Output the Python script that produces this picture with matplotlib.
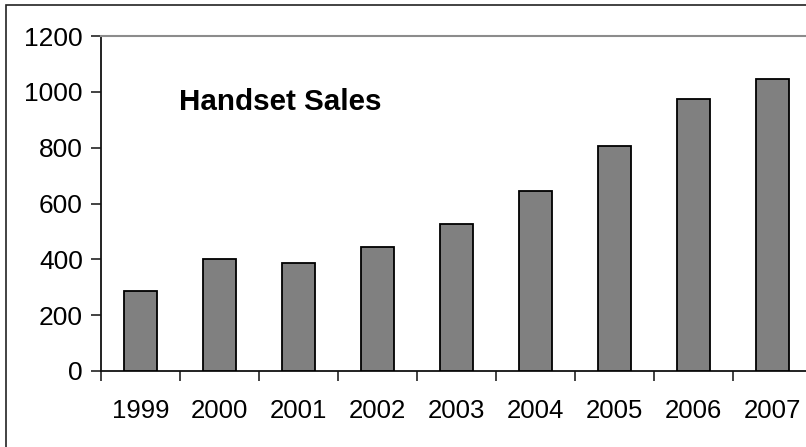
import matplotlib
matplotlib.use("Agg")
import matplotlib.pyplot as plt
from matplotlib.patches import Rectangle
import numpy as np

years = ["1999", "2000", "2001", "2002", "2003", "2004", "2005", "2006", "2007"]
sales = [288, 401, 387, 445, 527, 646, 807, 974, 1047]
yticks = [0, 200, 400, 600, 800, 1000, 1200]
title = "Handset Sales"

plt.rcParams['font.family'] = ['Liberation Sans', 'DejaVu Sans']

W, H = 806, 447
fig = plt.figure(figsize=(W / 100, H / 100), dpi=100)

# outer border (only top and left visible, chart cropped)
fig.patches.append(Rectangle((6 / W, -0.1), 1.2, 1 - 4.5 / H + 0.1,
                             transform=fig.transFigure, fill=False,
                             edgecolor='#222222', linewidth=1.2))

ax_left, ax_right = 101 / W, 812 / W
ax_bottom, ax_top = 1 - 371 / H, 1 - 36 / H
ax = fig.add_axes([ax_left, ax_bottom, ax_right - ax_left, ax_top - ax_bottom])

x = np.arange(len(years))
ax.bar(x, sales, width=0.41, color='#808080', edgecolor='black', linewidth=1.3, zorder=3)

ax.set_xlim(-0.5, len(years) - 0.5)
ax.set_ylim(0, 1200)
ax.set_yticks(yticks)
ax.set_yticklabels([str(v) for v in yticks], fontsize=19)
ax.set_xticks(x)
ax.set_xticklabels(years, fontsize=18.5)
ax.set_xticks(np.arange(len(years) + 1) - 0.5, minor=True)

ax.tick_params(axis='x', which='major', length=0, pad=20)
ax.tick_params(axis='x', which='minor', length=7, width=1.2, color='#222222', direction='out')
ax.tick_params(axis='y', which='major', length=7, width=1.2, color='#222222', direction='out', pad=6)

for s in ['left', 'bottom']:
    ax.spines[s].set_color('#111111')
    ax.spines[s].set_linewidth(1.3)
ax.spines['top'].set_color('#8c8c8c')
ax.spines['top'].set_linewidth(1.5)
ax.spines['right'].set_visible(False)

ax.text(0.1097, 0.803, title, transform=ax.transAxes, fontsize=21.3,
        fontweight='bold', ha='left', va='center')

fig.savefig("out.png", dpi=100)
